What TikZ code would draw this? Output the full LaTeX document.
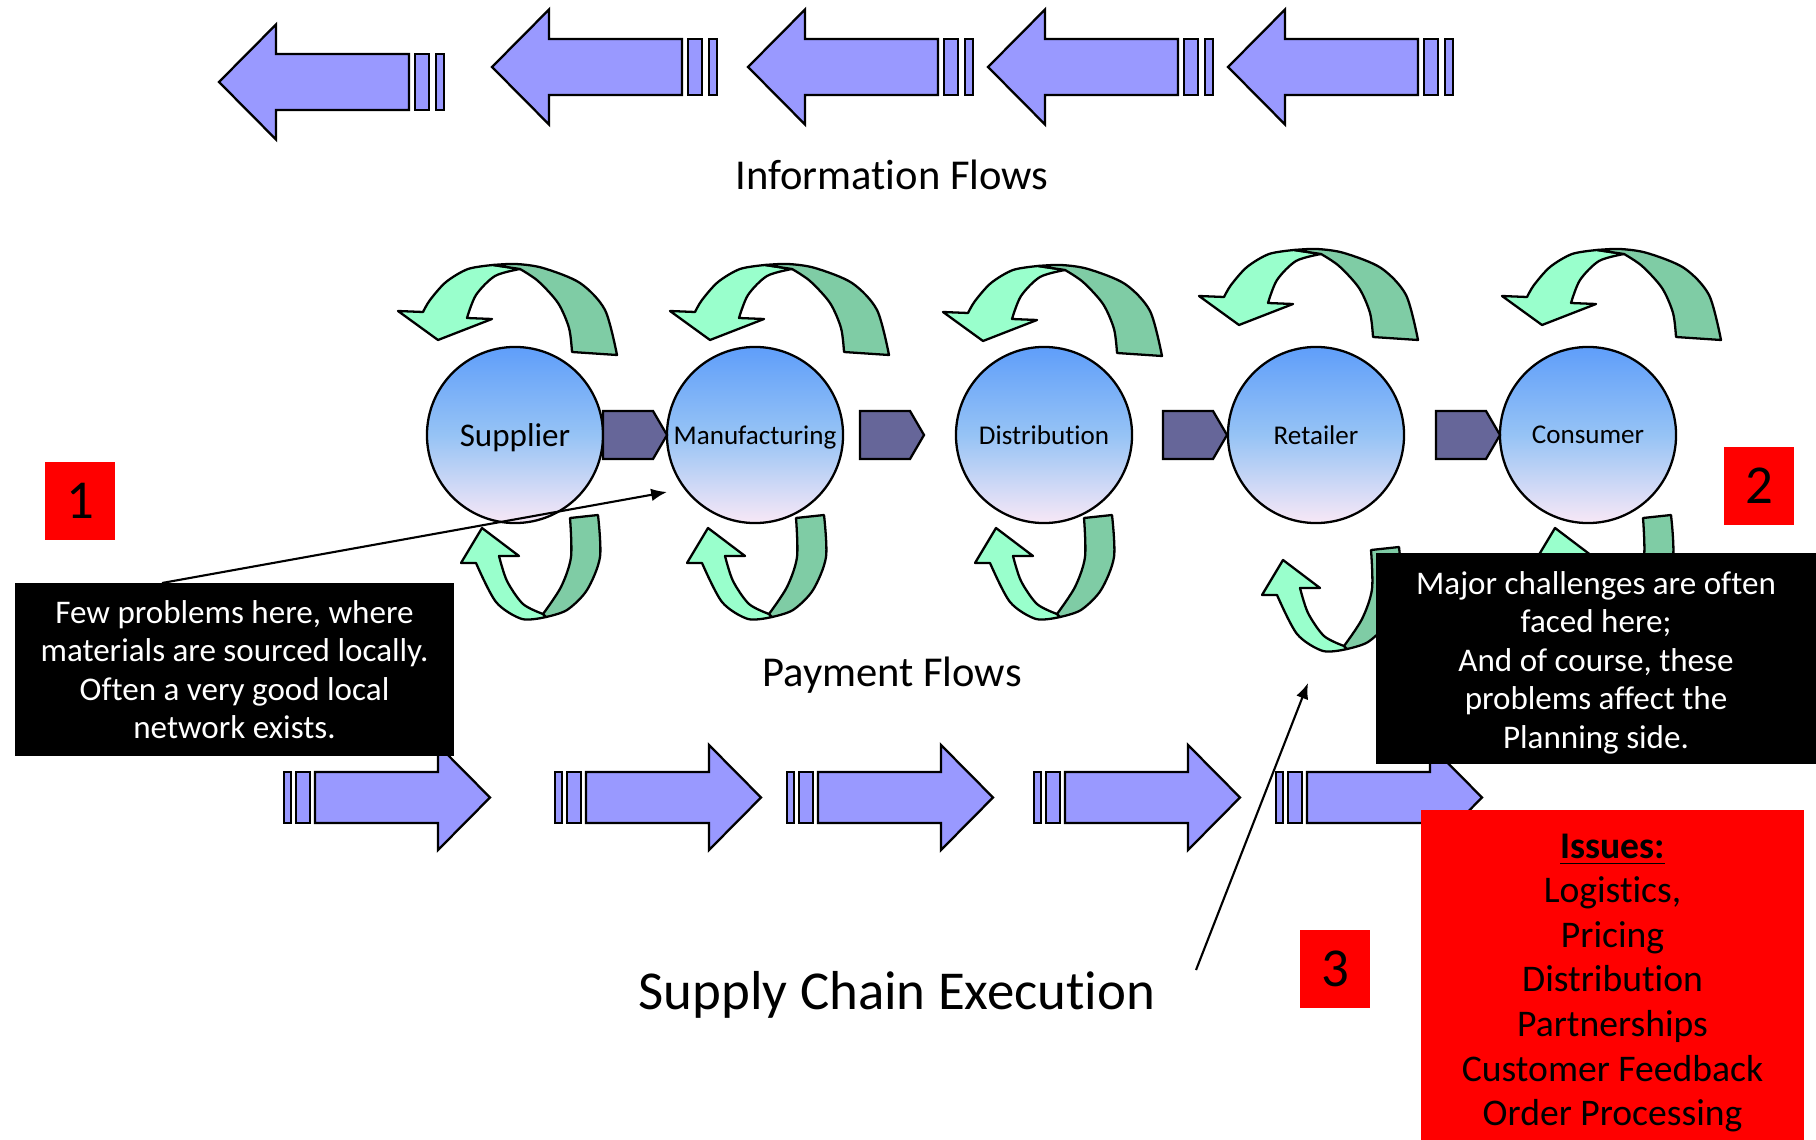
\documentclass[tikz,border=0pt]{standalone}
\usepackage{fontspec}
\setmainfont{Carlito}[Ligatures=NoCommon]
\usetikzlibrary{calc,arrows.meta}

\definecolor{flowblue}{RGB}{153,153,255}
\definecolor{chevgrey}{RGB}{102,102,153}
\definecolor{mintfront}{RGB}{153,255,204}
\definecolor{mintback}{RGB}{127,204,165}
\definecolor{orbtop}{RGB}{95,158,250}
\definecolor{orbmid}{RGB}{150,195,245}
\definecolor{orbbot}{RGB}{248,232,246}
\definecolor{alertred}{RGB}{255,0,0}

\tikzset{
	flow/.style={fill=flowblue, draw=black, line width=0.65pt},
	chev/.style={fill=chevgrey, draw=black, line width=0.65pt},
	front/.style={fill=mintfront, draw=black, line width=0.65pt, line join=round},
	back/.style={fill=mintback, draw=black, line width=0.65pt, line join=round},
	orb/.style={circle, draw=black, line width=0.65pt, inner sep=0pt, minimum size=1.76cm, text depth=0pt,
		top color=orbtop, bottom color=orbbot, middle color=orbmid, font=\fontsize{7.7}{9}\selectfont},
	notebox/.style={fill=black, text=white, align=center, inner sep=0pt, font=\fontsize{9.4}{10.95}\selectfont},
	redtag/.style={fill=alertred, inner sep=0pt, minimum width=0.70cm, minimum height=0.78cm, font=\fontsize{15.6}{18}\selectfont},
	pointer/.style={line width=0.6pt, -{Latex[length=4.5pt,width=3.6pt]}},
	flowlabel/.style={anchor=base, font=\fontsize{12.1}{14}\selectfont},
}

% left pointing block arrow, tip at #1
\def\infoarrow(#1){\begin{scope}[shift={(#1)}]
	\filldraw[flow] (0,0) -- (57,-57.5) -- (57,-28) -- (190,-28) -- (190,28) -- (57,28) -- (57,57.5) -- cycle;
	\filldraw[flow] (196,-28) rectangle (210,28);
	\filldraw[flow] (217,-28) rectangle (225,28);
\end{scope}}
% right pointing block arrow, tail at #1
\def\payarrow(#1){\begin{scope}[shift={(#1)}]
	\filldraw[flow] (0,-25.5) rectangle (7,25.5);
	\filldraw[flow] (12,-25.5) rectangle (26,25.5);
	\filldraw[flow] (31,-25.5) -- (154,-25.5) -- (154,-52.5) -- (206,0) -- (154,52.5) -- (154,25.5) -- (31,25.5) -- cycle;
\end{scope}}
% chevron between stages, tail at #1
\def\stagechev(#1){\begin{scope}[shift={(#1)}]
	\filldraw[chev] (0,-24) -- (50,-24) -- (64,0) -- (50,24) -- (0,24) -- cycle;
\end{scope}}
% curled arrow over a stage, tip at #1
\def\overloop(#1){\begin{scope}[shift={(#1)}]
	\filldraw[front] plot[smooth] coordinates {(55,-75) (30,-71) (8,-58) (-8,-40) (-15,-28)} -- (-40,-29) -- (0,0) -- (54,-21) -- (29,-22)
		-- plot[smooth] coordinates {(29,-22) (38,-45) (57,-64) (82,-71)} -- cycle;
	\filldraw[back] plot[smooth] coordinates {(55,-75) (78,-76) (105,-72) (142,-57) (167,-30) (179,15)} -- (134,12)
		-- plot[smooth] coordinates {(134,12) (131,-12) (120,-37) (100,-59) (82,-71)} -- cycle;
\end{scope}}
% curled arrow under a stage, tip at #1
\def\underloop(#1){\begin{scope}[shift={(#1)}]
	\filldraw[front] plot[smooth] coordinates {(64,89) (40,91) (14,74) (-6,35)} -- (-21,35) -- (0,0) -- (37,28) -- (17,28)
		-- plot[smooth] coordinates {(17,28) (25,53) (41,76) (61,86)} -- cycle;
	\filldraw[back] (88,-10) -- (116,-13) -- plot[smooth] coordinates {(116,-13) (118,29) (105,62) (85,82) (64,89)} -- (61,86)
		-- plot[smooth] coordinates {(61,86) (79,59) (89,29) (88,-10)} -- cycle;
\end{scope}}

\begin{document}
\begin{tikzpicture}[x=0.01cm, y=-0.01cm]
	%%%%% START %%%%%
	\fill[white] (0,0) rectangle (1816,1140);
	\useasboundingbox (0,0) rectangle (1816,1140);
	
	%%%%% information flows %%%%%
	\infoarrow(219,82)
	\infoarrow(492,67)
	\infoarrow(748,67)
	\infoarrow(988,67)
	\infoarrow(1228,67)
	\node[flowlabel] (infolbl) at (892,190) {Information Flows};
	
	%%%%% payment flows %%%%%
	\payarrow(284,797.5)
	\payarrow(555,797.5)
	\payarrow(787,797.5)
	\payarrow(1034,797.5)
	\payarrow(1276,797.5)
	\node[flowlabel] (paylbl) at (892,686) {Payment Flows};
	
	%%%%% loops %%%%%
	\overloop(438,340)
	\overloop(710,340)
	\overloop(983,341)
	\overloop(1239,325)
	\overloop(1542,325)
	
	\underloop(482,528)
	\underloop(708,528)
	\underloop(996,528)
	\underloop(1283,560)
	\underloop(1555,528)
	
	%%%%% stages %%%%%
	\node[orb, font=\fontsize{9.4}{11}\selectfont] (sup) at (515,435) {Supplier};
	\node[orb] (man) at (755,435) {Manufacturing};
	\node[orb] (dis) at (1044,435) {Distribution};
	\node[orb] (ret) at (1316,435) {Retailer};
	\node[orb] (con) at (1588,435) {Consumer};
	
	\stagechev(603,435)
	\stagechev(860,435)
	\stagechev(1163,435)
	\stagechev(1436,435)
	
	\node[flowlabel, font=\fontsize{15.6}{18}\selectfont] (execlbl) at (897,1009) {Supply Chain Execution};
	
	%%%%% notes %%%%%
	\node[notebox, minimum width=4.39cm, minimum height=1.73cm] (fewbox) at (234.5,669.5)
		{Few problems here, where\\materials are sourced locally.\\Often a very good local\\network exists.};
	\node[notebox, minimum width=4.40cm, minimum height=2.11cm] (majorbox) at (1596,658.5)
		{\rule{0pt}{0.31cm}Major challenges are often\\faced here;\\And of course, these\\problems affect the\\Planning side.};
	\node[fill=alertred, align=center, inner sep=0pt, minimum width=3.83cm, minimum height=3.46cm,
		font=\fontsize{10.7}{12.66}\selectfont] (issuebox) at (1612.5,983)
		{\textbf{\underline{Issues:}}\\Logistics,\\Pricing\\Distribution\\Partnerships\\Customer Feedback\\Order Processing};
	
	\node[redtag] (tagone) at (80,501) {1};
	\node[redtag] (tagtwo) at (1759,486) {2};
	\node[redtag] (tagthree) at (1335,969) {3};
	
	%%%%% pointers %%%%%
	\coordinate (fewtail) at (162,583);
	\coordinate (mansink) at (667,492);
	\draw[pointer] (fewtail) -- (mansink);
	\coordinate (exectail) at (1196,970);
	\coordinate (retsink) at (1308,683);
	\draw[pointer] (exectail) -- (retsink);
	%%%%% END %%%%%
\end{tikzpicture}
\end{document}
